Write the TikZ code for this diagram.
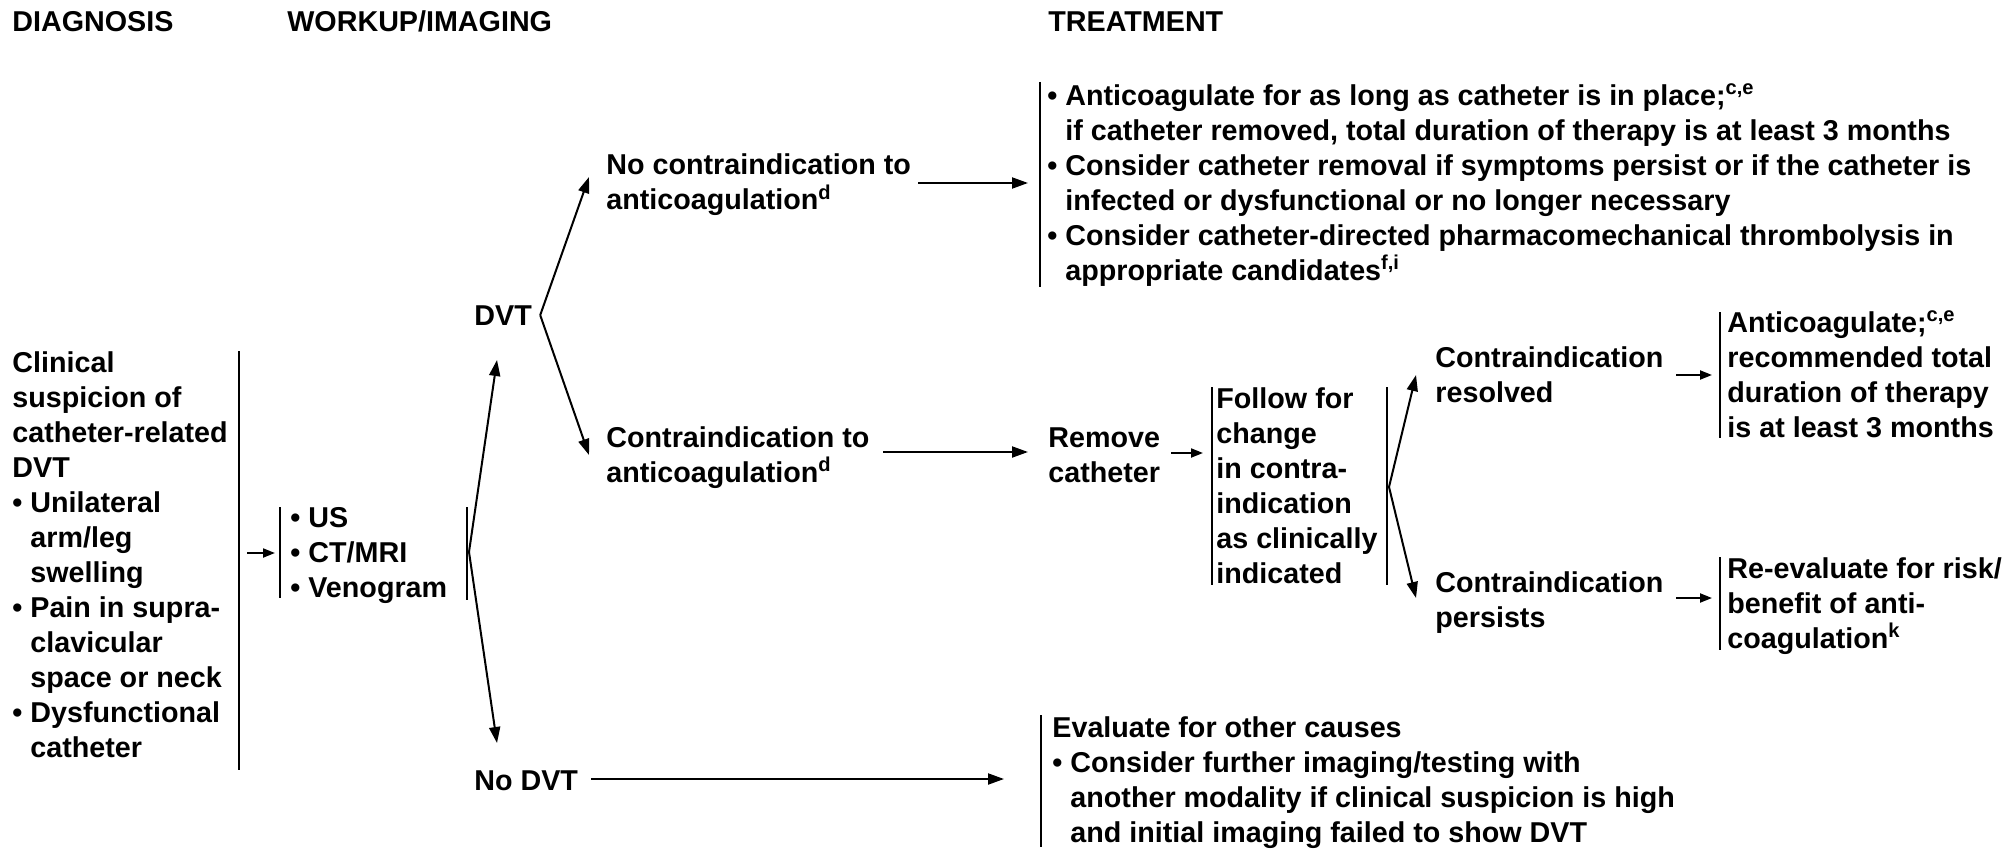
\documentclass[tikz,border=0pt]{standalone}
\usepackage{fontspec}
\setmainfont{Liberation Sans}
\usetikzlibrary{arrows.meta}

\newcommand{\bul}{\textbullet\ }
\newcommand{\ind}{\phantom{\textbullet\ }}

\begin{document}
\begin{tikzpicture}[x=0.5pt,y=-0.5pt,
  txt/.style={anchor=base west,align=left,inner sep=0pt,
    font=\fontsize{14.35pt}{17.5pt}\selectfont\bfseries},
  arr/.style={line width=1pt,-{Triangle[length=8pt,width=5.5pt]}},
  sarr/.style={line width=1pt,-{Triangle[length=6pt,width=4.5pt]}},
  bar/.style={line width=1.3pt}]
  \useasboundingbox (0,0) rectangle (2011,850);

  % column heads
  \node[txt] (hdiag) at (12,32) {DIAGNOSIS};
  \node[txt] (hwork) at (287,32) {WORKUP/IMAGING};
  \node[txt] (htreat) at (1048,32) {TREATMENT};

  % text blocks (placed at the baseline of their last line)
  \node[txt] (clin) at (12,757) {Clinical\\suspicion of\\catheter-related\\DVT\\
    \bul Unilateral\\\ind arm/leg\\\ind swelling\\
    \bul Pain in supra-\\\ind clavicular\\\ind space or neck\\
    \bul Dysfunctional\\\ind catheter};
  \node[txt] (img) at (290,597) {\bul US\\\bul CT/MRI\\\bul Venogram};
  \node[txt] (dvt) at (474,325) {DVT};
  \node[txt] (nodvt) at (474,790) {No DVT};
  \node[txt] (noci) at (606,210) {No contraindication to\\anticoagulation\textsuperscript{d}};
  \node[txt] (ci) at (606,482) {Contraindication to\\anticoagulation\textsuperscript{d}};
  \node[txt] (anti) at (1047,280) {\bul Anticoagulate for as long as catheter is in place;\textsuperscript{c,e}\\
    \ind if catheter removed, total duration of therapy is at least 3 months\\
    \bul Consider catheter removal if symptoms persist or if the catheter is\\
    \ind infected or dysfunctional or no longer necessary\\
    \bul Consider catheter-directed pharmacomechanical thrombolysis in\\
    \ind appropriate candidates\textsuperscript{f,i}};
  \node[txt] (remove) at (1048,482) {Remove\\catheter};
  \node[txt] (follow) at (1216,583) {Follow for\\change\\in contra-\\indication\\as clinically\\indicated};
  \node[txt] (resolved) at (1435,402) {Contraindication\\resolved};
  \node[txt] (persists) at (1435,627) {Contraindication\\persists};
  \node[txt] (ac2) at (1727,437) {Anticoagulate;\textsuperscript{c,e}\\recommended total\\duration of therapy\\is at least 3 months};
  \node[txt] (reeval) at (1727,648) {Re-evaluate for risk/\\benefit of anti-\\coagulation\textsuperscript{k}};
  \node[txt] (other) at (1052,842) {Evaluate for other causes\\
    \bul Consider further imaging/testing with\\
    \ind another modality if clinical suspicion is high\\
    \ind and initial imaging failed to show DVT};

  % brackets
  \draw[bar] (239,351) -- (239,770);
  \draw[bar] (280,507) -- (280,598);
  \draw[bar] (467,507) -- (467,600);
  \draw[bar] (1040,82) -- (1040,287);
  \draw[bar] (1212,387) -- (1212,585);
  \draw[bar] (1387,387) -- (1387,585);
  \draw[bar] (1720,312) -- (1720,438);
  \draw[bar] (1720,557) -- (1720,650);
  \draw[bar] (1041,715) -- (1041,847);

  % fork points and arrow ends
  \coordinate (F1) at (469,552);
  \coordinate (F2) at ([xshift=4pt]dvt.east);
  \coordinate (F3) at (1389,487);
  \coordinate (toDvt) at (497,360);
  \coordinate (toNoDvt) at (497,743);
  \coordinate (toNoci) at (589,177);
  \coordinate (toCi) at (589,455);
  \coordinate (toRes) at (1416,375);
  \coordinate (toPer) at (1416,598);

  \draw[sarr] (247,553) -- (275,553);
  \draw[arr] (F1) -- (toDvt);
  \draw[arr] (F1) -- (toNoDvt);
  \draw[arr] (F2) -- (toNoci);
  \draw[arr] (F2) -- (toCi);
  \draw[arr] (918,183) -- (1028,183);
  \draw[arr] (883,452) -- (1028,452);
  \draw[sarr] (1171,453) -- (1203,453);
  \draw[arr] (F3) -- (toRes);
  \draw[arr] (F3) -- (toPer);
  \draw[sarr] (1676,375) -- (1712,375);
  \draw[sarr] (1676,598) -- (1712,598);
  \draw[arr] (591,779) -- (1004,779);
\end{tikzpicture}
\end{document}
